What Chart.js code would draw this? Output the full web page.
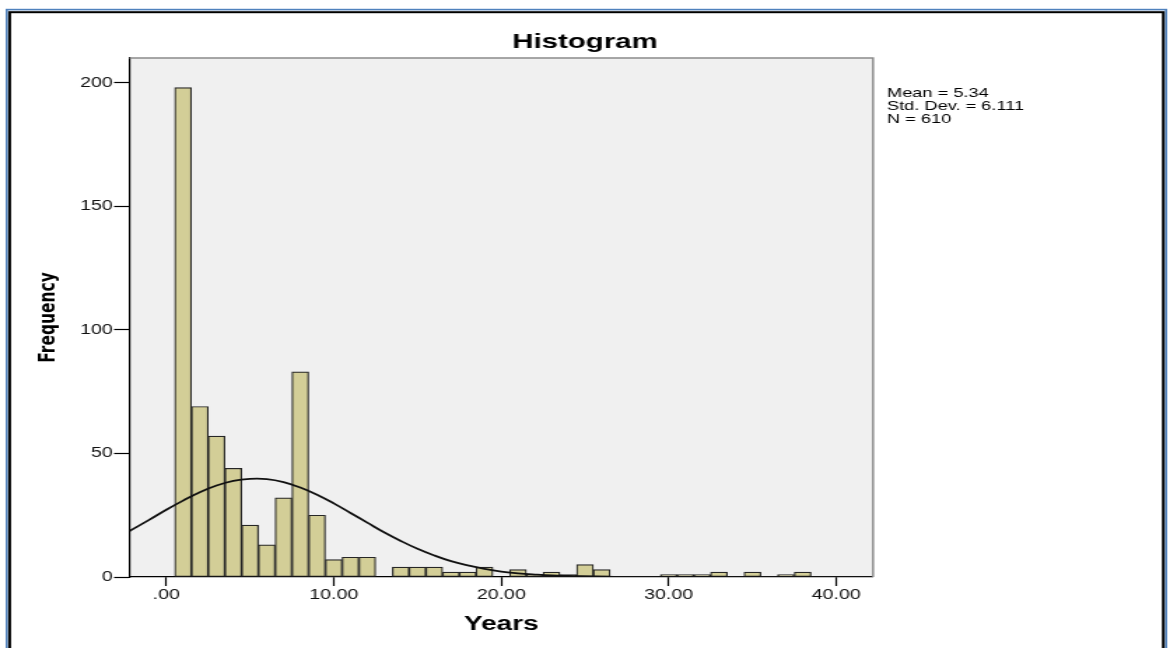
<!DOCTYPE html>
<html>
<head>
<meta charset="utf-8">
<script src="https://cdn.jsdelivr.net/npm/chart.js@4.4.1/dist/chart.umd.min.js"></script>
<style>
  html, body { margin: 0; padding: 0; background: #ffffff; }
  #wrap { width: 1170px; height: 648px; overflow: hidden; }
  #c { display: block; width: 1170px; height: 648px; }
</style>
</head>
<body>
<div id="wrap"><canvas id="c" width="836" height="648" style="width:1170px;height:648px;"></canvas></div>
<script>
// ---- data ----
const binCenters = [1,2,3,4,5,6,7,8,9,10,11,12,13,14,15,16,17,18,19,20,21,22,23,24,25,26,27,28,29,30,31,32,33,34,35,36,37,38];
const frequencies = [198,69,57,44,21,13,32,83,25,7,8,8,0,4,4,4,2,2,4,0,3,1,2,1,5,3,0,0,0,1,1,1,2,0,2,0,1,2];
const curveX = [-2.2,-1,0,1,2,3,4,5,6,7,8,9,10,11,12,13,14,15,16,17,18,19,20,21,22,23,24,26,28,30,35,40,42.2];
const curveY = [18.6,23.2,27.2,30.9,34.3,37.0,38.9,39.7,39.6,38.4,36.2,33.3,29.8,25.9,22.0,18.1,14.6,11.4,8.7,6.4,4.7,3.3,2.2,1.5,1.0,0.6,0.4,0.1,0,0,0,0,0];
const xTicks = [0,10,20,30,40];
const yTicks = [0,50,100,150,200];
const statsLines = ['Mean = 5.34','Std. Dev. = 6.111','N = 610'];
const chartTitle = 'Histogram';
const xTitle = 'Years';
const yTitle = 'Frequency';

const SANS = "'Liberation Sans', Arial, Helvetica, sans-serif";

const barData = binCenters.map((x, i) => ({ x: x, y: frequencies[i] }));
const curveData = curveX.map((x, i) => ({ x: x, y: curveY[i] }));

const decorPlugin = {
  id: 'decor',
  beforeDraw(chart) {
    const { ctx, chartArea: a } = chart;
    ctx.save();
    ctx.fillStyle = '#f0f0f0';
    ctx.fillRect(a.left, a.top, a.right - a.left, a.bottom - a.top);
    ctx.restore();
  },
  afterDatasetsDraw(chart) {
    const { ctx, chartArea: a } = chart;
    ctx.save();
    ctx.strokeStyle = '#8a8a8a';
    ctx.lineWidth = 1.5;
    ctx.beginPath();
    ctx.moveTo(a.left, a.top);
    ctx.lineTo(a.right, a.top);
    ctx.lineTo(a.right, a.bottom);
    ctx.stroke();
    ctx.restore();
  },
  afterDraw(chart) {
    const { ctx, width } = chart;
    ctx.save();
    // title, centred on the whole canvas
    ctx.fillStyle = '#000';
    ctx.font = 'bold 21px ' + SANS;
    ctx.textAlign = 'center';
    ctx.textBaseline = 'alphabetic';
    ctx.fillText(chartTitle, width / 2, 48);
    // stats text
    ctx.font = '13px ' + SANS;
    ctx.textAlign = 'left';
    statsLines.forEach((t, i) => ctx.fillText(t, 633.8, 97 + i * 12.8));
    // frame
    ctx.strokeStyle = '#4f81bd';
    ctx.lineWidth = 1.6;
    ctx.strokeRect(4.8, 9.6, 828.4, 720);
    ctx.strokeStyle = '#000';
    ctx.lineWidth = 2;
    ctx.strokeRect(6.9, 12.2, 824.3, 720);
    ctx.restore();
  }
};

new Chart(document.getElementById('c'), {
  type: 'bar',
  data: {
    datasets: [
      {
        type: 'line',
        data: curveData,
        borderColor: '#111',
        borderWidth: 1.8,
        pointRadius: 0,
        fill: false,
        tension: 0.4,
        order: 1
      },
      {
        type: 'bar',
        data: barData,
        backgroundColor: '#d3ce97',
        borderColor: '#262626',
        borderWidth: 1.2,
        borderSkipped: false,
        barPercentage: 1,
        categoryPercentage: 1,
        order: 2
      }
    ]
  },
  options: {
    responsive: false,
    devicePixelRatio: 1,
    animation: false,
    events: [],
    layout: { padding: { left: 0, right: 212.2, top: 58, bottom: 0 } },
    plugins: {
      legend: { display: false },
      tooltip: { enabled: false },
      title: { display: false }
    },
    scales: {
      x: {
        type: 'linear',
        min: -2.2,
        max: 42.2,
        offset: false,
        afterFit(s) { s.height = 71; },
        afterBuildTicks(s) { s.ticks = xTicks.map(v => ({ value: v })); },
        grid: { display: true, drawOnChartArea: false, drawTicks: true, tickLength: 9, color: '#000', tickColor: '#000', tickWidth: 1.2, offset: false },
        border: { display: true, color: '#000', width: 1.2 },
        ticks: {
          color: '#111',
          padding: 1,
          font: { family: SANS, size: 14 },
          maxRotation: 0,
          autoSkip: false,
          callback: v => (v === 0 ? '.00' : v.toFixed(2))
        },
        title: {
          display: true,
          text: xTitle,
          color: '#000',
          font: { family: SANS, size: 20, weight: 'bold' },
          padding: { top: 0, bottom: 11.5 }
        }
      },
      y: {
        min: 0,
        max: 210,
        afterFit(s) { s.width = 92.5; },
        afterBuildTicks(s) { s.ticks = yTicks.map(v => ({ value: v })); },
        grid: { display: true, drawOnChartArea: false, drawTicks: true, tickLength: 11, color: '#000', tickColor: '#000', tickWidth: 1.2 },
        border: { display: true, color: '#000', width: 1.2 },
        ticks: {
          color: '#111',
          padding: 1,
          font: { family: SANS, size: 14 },
          autoSkip: false
        },
        title: {
          display: true,
          text: yTitle,
          color: '#000',
          font: { family: "'DejaVu Sans', sans-serif", size: 15.5, weight: 'bold' },
          padding: { top: 26, bottom: 0 }
        }
      }
    }
  },
  plugins: [decorPlugin]
});
</script>
</body>
</html>
